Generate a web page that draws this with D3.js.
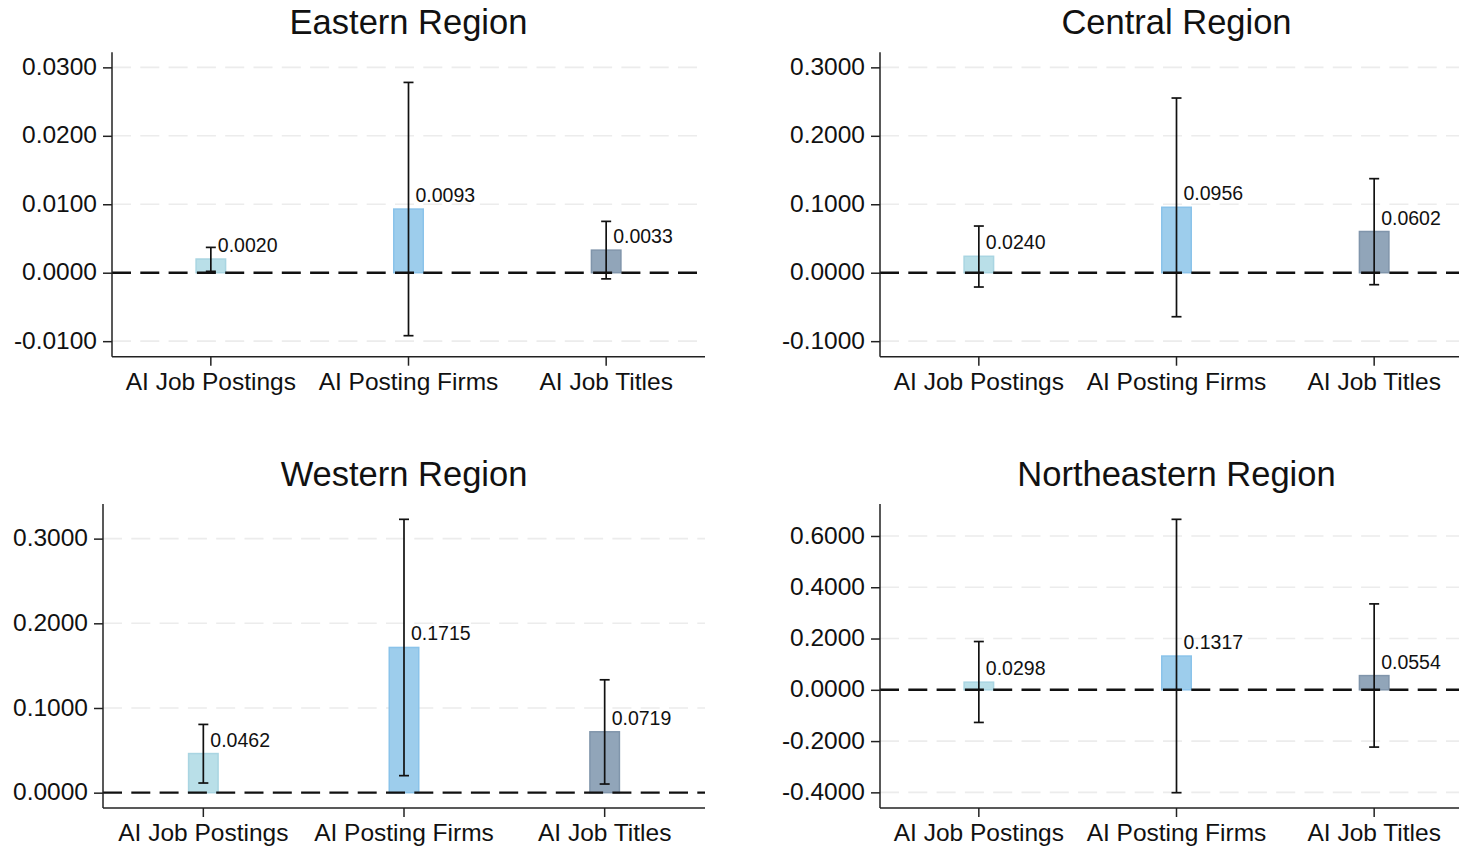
<!DOCTYPE html>
<html>
<head>
<meta charset="utf-8">
<script src="https://cdn.jsdelivr.net/npm/d3@7"></script>
<style>
  html, body { margin: 0; padding: 0; background: #fff; }
  svg { display: block; font-family: "Liberation Sans", Arial, sans-serif; }
</style>
</head>
<body>
<svg id="chart" width="1459" height="848"></svg>
<script>
// ---- data ----
const categories = ["AI Job Postings", "AI Posting Firms", "AI Job Titles"];
const regionNames = ["Eastern Region", "Central Region", "Western Region", "Northeastern Region"];

const coefEastern = [0.0020, 0.0093, 0.0033];
const lowEastern  = [0.0002, -0.0092, -0.0009];
const highEastern = [0.0037, 0.0278, 0.0075];

const coefCentral = [0.0240, 0.0956, 0.0602];
const lowCentral  = [-0.0209, -0.0643, -0.0175];
const highCentral = [0.0682, 0.2552, 0.1374];

const coefWestern = [0.0462, 0.1715, 0.0719];
const lowWestern  = [0.0114, 0.0201, 0.0102];
const highWestern = [0.0806, 0.3228, 0.1333];

const coefNortheastern = [0.0298, 0.1317, 0.0554];
const lowNortheastern  = [-0.1273, -0.4013, -0.2234];
const highNortheastern = [0.1883, 0.6649, 0.3351];

const ticksEastern = [-0.01, 0, 0.01, 0.02, 0.03];
const ticksCentral = [-0.1, 0, 0.1, 0.2, 0.3];
const ticksWestern = [0, 0.1, 0.2, 0.3];
const ticksNortheastern = [-0.4, -0.2, 0, 0.2, 0.4, 0.6];

const domainEastern = [-0.01227, 0.0322];
const domainCentral = [-0.1227, 0.322];
const domainWestern = [-0.0181, 0.3409];
const domainNortheastern = [-0.461, 0.7247];

// ---- styling / layout ----
const fills   = ["#b9dfe8", "#9dcdec", "#91a5b9"];
const strokes = ["#a9d5e2", "#8ac3ea", "#8095ab"];

const panels = [
  { name: regionNames[0], coef: coefEastern, low: lowEastern, high: highEastern, ticks: ticksEastern, domain: domainEastern, x: [112, 705], y: [356.7, 52.3] },
  { name: regionNames[1], coef: coefCentral, low: lowCentral, high: highCentral, ticks: ticksCentral, domain: domainCentral, x: [880, 1473], y: [356.7, 52.3] },
  { name: regionNames[2], coef: coefWestern, low: lowWestern, high: highWestern, ticks: ticksWestern, domain: domainWestern, x: [103, 705], y: [808, 504] },
  { name: regionNames[3], coef: coefNortheastern, low: lowNortheastern, high: highNortheastern, ticks: ticksNortheastern, domain: domainNortheastern, x: [880, 1473], y: [808, 504] }
];

const fmt = v => d3.format(".4f")(v).replace("\u2212", "-");
const svg = d3.select("#chart");

panels.forEach(p => {
  const g = svg.append("g");
  const x = d3.scaleBand().domain(categories).range(p.x).padding(0);
  const y = d3.scaleLinear().domain(p.domain).range(p.y);
  const xc = c => x(c) + x.bandwidth() / 2;
  const barW = 29.5;

  // gridlines
  g.selectAll("line.grid").data(p.ticks.filter(t => t !== 0)).join("line")
    .attr("x1", p.x[0]).attr("x2", p.x[1])
    .attr("y1", d => y(d)).attr("y2", d => y(d))
    .attr("stroke", "#ececec").attr("stroke-width", 1.6)
    .attr("stroke-dasharray", "19,9.3");

  // bars
  g.selectAll("rect.bar").data(categories).join("rect")
    .attr("x", c => xc(c) - barW / 2)
    .attr("width", barW)
    .attr("y", (c, i) => Math.min(y(p.coef[i]), y(0)))
    .attr("height", (c, i) => Math.abs(y(p.coef[i]) - y(0)))
    .attr("fill", (c, i) => fills[i])
    .attr("stroke", (c, i) => strokes[i])
    .attr("stroke-width", 1.5);

  // zero line
  g.append("line")
    .attr("x1", p.x[0]).attr("x2", p.x[1])
    .attr("y1", y(0)).attr("y2", y(0))
    .attr("stroke", "#111").attr("stroke-width", 2.4)
    .attr("stroke-dasharray", "19,9.3");

  // error bars
  const eb = g.selectAll("g.eb").data(categories).join("g");
  eb.append("line")
    .attr("x1", c => xc(c)).attr("x2", c => xc(c))
    .attr("y1", (c, i) => y(p.low[i])).attr("y2", (c, i) => y(p.high[i]))
    .attr("stroke", "#111").attr("stroke-width", 1.7);
  eb.append("line")
    .attr("x1", c => xc(c) - 5).attr("x2", c => xc(c) + 5)
    .attr("y1", (c, i) => y(p.low[i])).attr("y2", (c, i) => y(p.low[i]))
    .attr("stroke", "#111").attr("stroke-width", 1.7);
  eb.append("line")
    .attr("x1", c => xc(c) - 5).attr("x2", c => xc(c) + 5)
    .attr("y1", (c, i) => y(p.high[i])).attr("y2", (c, i) => y(p.high[i]))
    .attr("stroke", "#111").attr("stroke-width", 1.7);

  // value labels
  g.selectAll("text.val").data(categories).join("text")
    .attr("x", c => xc(c) + 7)
    .attr("y", (c, i) => y(p.coef[i]) - 7)
    .attr("font-size", 19.5)
    .attr("fill", "#111")
    .text((c, i) => fmt(p.coef[i]));

  // axes
  const yAxis = d3.axisLeft(y).tickValues(p.ticks).tickFormat(fmt).tickSize(9).tickPadding(6);
  const ya = g.append("g").attr("transform", `translate(${p.x[0]},0)`).call(yAxis);
  ya.select(".domain").attr("d", `M0,${p.y[1]}V${p.y[0]}`);
  ya.selectAll(".tick text").attr("dy", "0.29em");
  const xAxis = d3.axisBottom(x).tickSize(9).tickPadding(7);
  const xa = g.append("g").attr("transform", `translate(0,${p.y[0]})`).call(xAxis);
  xa.select(".domain").attr("d", `M${p.x[0]},0H${p.x[1]}`);

  [ya, xa].forEach(a => {
    a.attr("font-family", null).attr("font-size", 24.5);
    a.selectAll("path.domain").attr("stroke", "#222").attr("stroke-width", 1.5);
    a.selectAll(".tick line").attr("stroke", "#222").attr("stroke-width", 1.5);
    a.selectAll(".tick text").attr("fill", "#111");
  });

  // title
  g.append("text")
    .attr("x", (p.x[0] + p.x[1]) / 2)
    .attr("y", p.y[1] - 18.5)
    .attr("text-anchor", "middle")
    .attr("font-size", 34.5)
    .attr("fill", "#111")
    .text(p.name);
});
</script>
</body>
</html>
